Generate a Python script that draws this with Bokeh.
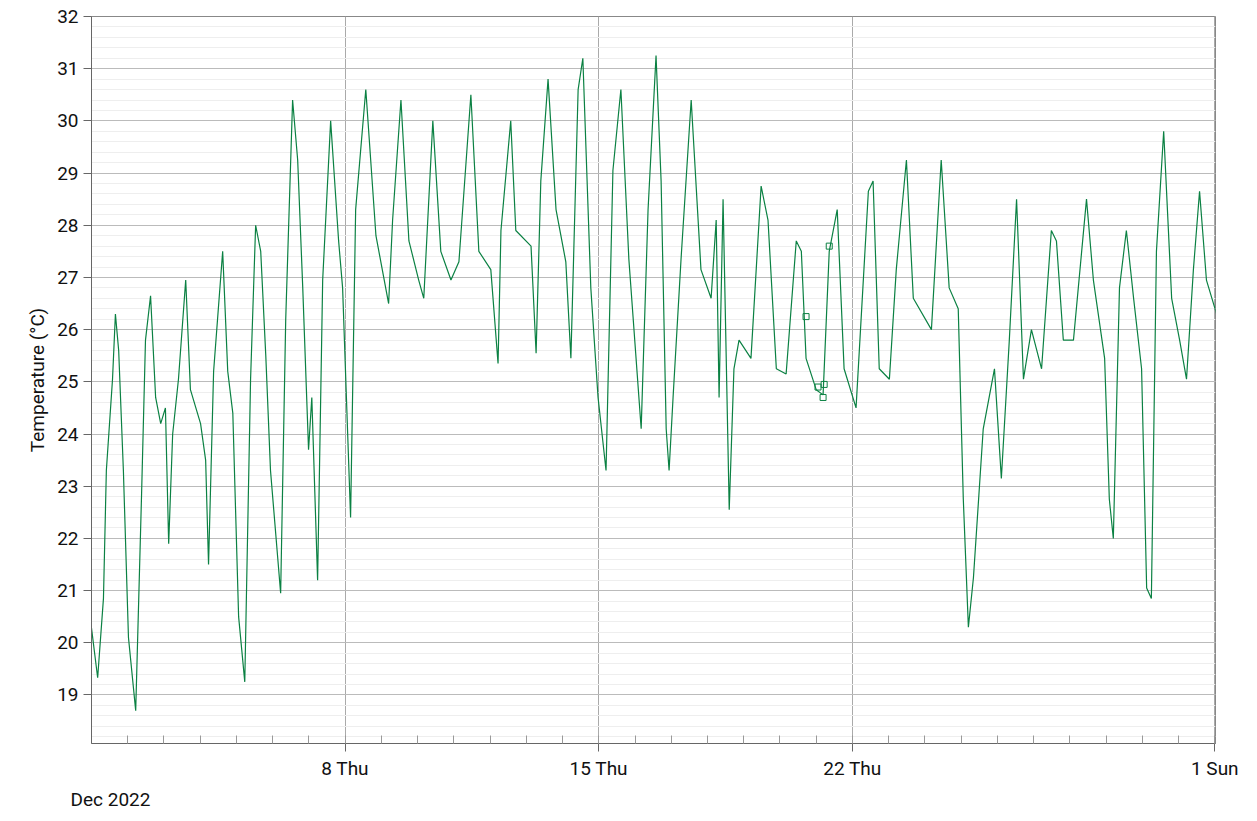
from bokeh.plotting import figure
from bokeh.models import FixedTicker, Range1d, Title
from bokeh.embed import file_html
from bokeh.resources import INLINE

# days elapsed since 1 Dec 2022 00:00
days = [0,0.17,0.33,0.41,0.58,0.66,0.75,0.88,1.02,1.22,1.38,1.49,1.63,1.77,1.91,2.04,2.13,2.24,2.40,2.60,2.73,3.01,3.15,3.23,3.37,3.62,3.76,3.90,4.06,4.23,4.39,4.53,4.67,4.81,4.94,5.22,5.36,5.55,5.69,5.83,5.99,6.08,6.24,6.38,6.60,6.82,6.93,7.15,7.29,7.57,7.85,8.20,8.31,8.54,8.76,9.03,9.17,9.42,9.64,9.92,10.14,10.47,10.69,11.02,11.22,11.30,11.57,11.71,12.13,12.27,12.40,12.60,12.82,13.09,13.23,13.43,13.56,13.78,13.98,14.20,14.39,14.61,14.83,15.17,15.36,15.58,15.72,15.86,15.94,16.05,16.27,16.55,16.82,17.10,17.24,17.32,17.43,17.60,17.73,17.87,18.20,18.48,18.67,18.90,19.17,19.45,19.59,19.72,20.0,20.19,20.36,20.58,20.77,21.10,21.44,21.57,21.74,22.02,22.21,22.49,22.68,23.18,23.45,23.67,23.92,24.06,24.20,24.34,24.61,24.92,25.11,25.33,25.53,25.72,25.94,26.22,26.49,26.63,26.82,27.10,27.46,27.65,27.96,28.09,28.20,28.37,28.56,28.76,28.98,29.12,29.25,29.39,29.59,29.81,30.03,30.22,30.41,30.58,30.77,31.05]
temps = [20.28,19.33,20.85,23.3,25.05,26.3,25.6,23.3,20.1,18.7,22.8,25.8,26.65,24.7,24.2,24.5,21.9,24.0,25.05,26.95,24.85,24.2,23.5,21.5,25.2,27.5,25.2,24.4,20.5,19.25,25.05,28.0,27.5,25.5,23.3,20.95,26.2,30.4,29.25,26.8,23.7,24.7,21.2,26.95,30.0,27.7,26.8,22.4,28.3,30.6,27.8,26.5,28.1,30.4,27.7,26.95,26.6,30.0,27.5,26.95,27.3,30.5,27.5,27.15,25.35,27.9,30.0,27.9,27.6,25.55,28.85,30.8,28.3,27.3,25.45,30.6,31.2,26.8,24.7,23.3,29.05,30.6,27.35,24.1,28.3,31.25,28.85,24.1,23.3,24.7,27.35,30.4,27.15,26.6,28.1,24.7,28.5,22.55,25.25,25.8,25.45,28.75,28.1,25.25,25.15,27.7,27.5,25.45,24.85,24.75,27.5,28.3,25.25,24.5,28.65,28.85,25.25,25.05,27.15,29.25,26.6,26.0,29.25,26.8,26.4,22.75,20.3,21.25,24.1,25.25,23.15,25.8,28.5,25.05,26.0,25.25,27.9,27.7,25.8,25.8,28.5,26.95,25.45,22.75,22.0,26.8,27.9,26.6,25.25,21.05,20.85,27.5,29.8,26.6,25.8,25.05,27.15,28.65,26.95,26.3]
iso_days = [19.72,20.05,20.22,20.19,20.36]
iso_temps = [26.25,24.9,24.95,24.7,27.6]
tick_days = [7,14,21,31]
tick_labels = ["8 Thu","15 Thu","22 Thu","1 Sun"]

p = figure(width=1249, height=813, output_backend="svg", toolbar_location=None,
           x_range=Range1d(0,31.02), y_range=Range1d(18.07,32),
           min_border_left=91, min_border_right=34, min_border_top=16, min_border_bottom=30)
green = "#0b8143"
p.line(days, temps, line_color=green, line_width=1.2)
p.scatter(iso_days, iso_temps, marker="square", size=6, fill_color=None, line_color=green)

p.xaxis.ticker = FixedTicker(ticks=tick_days, minor_ticks=list(range(0,32)))
p.xaxis.major_label_overrides = {d: l for d, l in zip(tick_days, tick_labels)}
p.yaxis.ticker = FixedTicker(ticks=list(range(19,33)), minor_ticks=[19+0.2*i for i in range(-5,66)])
for ax in (p.xaxis, p.yaxis):
    ax.major_label_text_font = "Roboto"
    ax.major_label_text_font_size = "19px"
    ax.major_label_text_color = "#111111"
    ax.axis_line_color = "#666666"
    ax.major_tick_line_color = "#666666"
    ax.minor_tick_line_color = "#999999"
    ax.major_tick_out = 8
    ax.major_tick_in = 0
    ax.minor_tick_out = 0
    ax.minor_tick_in = 0
p.xaxis.minor_tick_in = 8
p.yaxis.axis_label = "Temperature (°C)"
p.yaxis.axis_label_text_font = "Roboto"
p.yaxis.axis_label_text_font_size = "19px"
p.yaxis.axis_label_text_font_style = "normal"
p.yaxis.axis_label_text_color = "#111111"
p.xgrid.grid_line_color = "#aaaaaa"
p.xgrid.grid_line_dash = "solid"
p.ygrid.grid_line_color = "#bbbbbb"
p.ygrid.minor_grid_line_color = "#eeeeee"
p.outline_line_color = "#888888"
p.add_layout(Title(text="Dec 2022", align="left", offset=-21, standoff=6,
                   text_font="Roboto", text_font_size="19px", text_font_style="normal",
                   text_color="#111111"), "below")

open("out.html", "w").write(file_html(p, INLINE))
